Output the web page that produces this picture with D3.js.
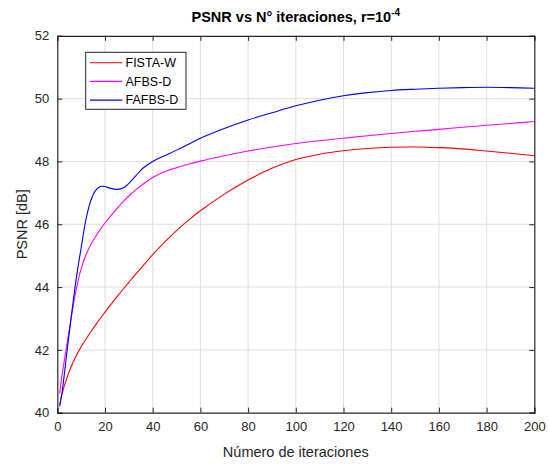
<!DOCTYPE html>
<html><head><meta charset="utf-8">
<script src="https://cdn.jsdelivr.net/npm/d3@7"></script>
<style>body{margin:0;background:#fff}svg{display:block}text{font-family:"Liberation Sans",Arial,sans-serif}</style>
</head><body><svg id="c" width="548" height="464"></svg>
<script>
const iterations = [1,2,4,6,8,10,12,14,16,18,20,22,25,28,30,33,36,40,45,50,55,60,70,80,90,100,110,120,130,140,150,160,170,180,190,200];
const fistaW = [40.25,40.6,41.1,41.5,41.82,42.1,42.34,42.57,42.79,43.0,43.2,43.4,43.69,43.97,44.15,44.42,44.68,45.03,45.43,45.8,46.13,46.43,46.96,47.41,47.78,48.06,48.23,48.34,48.41,48.45,48.46,48.44,48.4,48.33,48.26,48.18];
const afbsD = [40.62,41.2,42.15,43.1,43.95,44.58,45.02,45.35,45.6,45.83,46.04,46.23,46.5,46.75,46.9,47.1,47.28,47.49,47.67,47.8,47.91,48.01,48.18,48.33,48.46,48.57,48.66,48.74,48.82,48.89,48.96,49.02,49.09,49.15,49.21,49.27];
const fafbsD = [40.2,40.65,41.9,43.15,44.3,45.25,46.15,46.74,47.07,47.2,47.2,47.15,47.11,47.17,47.3,47.55,47.79,48.0,48.18,48.36,48.55,48.74,49.05,49.32,49.55,49.77,49.95,50.09,50.19,50.26,50.3,50.33,50.35,50.36,50.35,50.33];
const seriesNames = ["FISTA-W","AFBS-D","FAFBS-D"];
const seriesColors = ["#ff0000","#ff00ff","#0000ff"];
const xTicks = [0,20,40,60,80,100,120,140,160,180,200];
const yTicks = [40,42,44,46,48,50,52];

const svg = d3.select("#c");
const L=57.3, R=534.3, T=35.8, B=412.7;
const x = d3.scaleLinear().domain([0,200]).range([L,R]);
const y = d3.scaleLinear().domain([40,52]).range([B,T]);
const axisCol="#262626";

// grid
svg.append("g").selectAll("line").data(xTicks.slice(1,-1)).join("line")
  .attr("x1",d=>x(d)).attr("x2",d=>x(d)).attr("y1",T).attr("y2",B)
  .attr("stroke","#dfdfdf").attr("stroke-width",1);
svg.append("g").selectAll("line").data(yTicks.slice(1,-1)).join("line")
  .attr("y1",d=>y(d)).attr("y2",d=>y(d)).attr("x1",L).attr("x2",R)
  .attr("stroke","#dfdfdf").attr("stroke-width",1);

// axes
const fmt = d3.format("d");
const gx = svg.append("g").attr("transform",`translate(0,${B})`)
  .call(d3.axisBottom(x).tickValues(xTicks).tickSize(-5).tickPadding(9).tickFormat(fmt));
const gxt = svg.append("g").attr("transform",`translate(0,${T})`)
  .call(d3.axisTop(x).tickValues(xTicks).tickSize(-5).tickFormat(""));
const gy = svg.append("g").attr("transform",`translate(${L},0)`)
  .call(d3.axisLeft(y).tickValues(yTicks).tickSize(-5).tickPadding(8).tickFormat(fmt));
const gyr = svg.append("g").attr("transform",`translate(${R},0)`)
  .call(d3.axisRight(y).tickValues(yTicks).tickSize(-5).tickFormat(""));
[gx,gxt,gy,gyr].forEach(g=>{
  g.selectAll("path").attr("stroke",axisCol).attr("stroke-width",1.2);
  g.selectAll("line").attr("stroke",axisCol);
  g.selectAll("text").attr("fill",axisCol).style("font-size","13px").style("font-family",'"Liberation Sans",Arial,sans-serif');
});

// lines
const data = [fistaW, afbsD, fafbsD];
const line = d3.line().x((d,i)=>x(iterations[i])).y(d=>y(d)).curve(d3.curveCatmullRom.alpha(0.5));
data.forEach((s,k)=>{
  svg.append("path").datum(s).attr("d",line).attr("fill","none")
    .attr("stroke",seriesColors[k]).attr("stroke-width",1.1);
});

// legend
const lg = svg.append("g");
lg.append("rect").attr("x",85.7).attr("y",52.3).attr("width",100.3).attr("height",57)
  .attr("fill","#fff").attr("stroke",axisCol).attr("stroke-width",1);
seriesNames.forEach((n,k)=>{
  const yy = 62.7 + k*18.7;
  lg.append("line").attr("x1",90).attr("x2",122.3).attr("y1",yy).attr("y2",yy)
    .attr("stroke",seriesColors[k]).attr("stroke-width",1.1);
  lg.append("text").attr("x",125.5).attr("y",yy+4.3).text(n)
    .attr("fill","#000").style("font-size","12.5px");
});

// title
const t = svg.append("text").attr("x",(L+R)/2).attr("y",22).attr("text-anchor","middle")
  .style("font-size","14.5px").style("font-weight","bold").attr("fill","#000");
t.append("tspan").text("PSNR vs N° iteraciones, r=10");
t.append("tspan").text("-4").attr("dy",-6).style("font-size","10px");

// axis labels
svg.append("text").attr("x",(L+R)/2).attr("y",457).attr("text-anchor","middle")
  .style("font-size","14.5px").attr("fill",axisCol).text("Número de iteraciones");
svg.append("text").attr("transform",`translate(27,${(T+B)/2}) rotate(-90)`).attr("text-anchor","middle")
  .style("font-size","14.5px").attr("fill",axisCol).text("PSNR [dB]");
</script></body></html>
